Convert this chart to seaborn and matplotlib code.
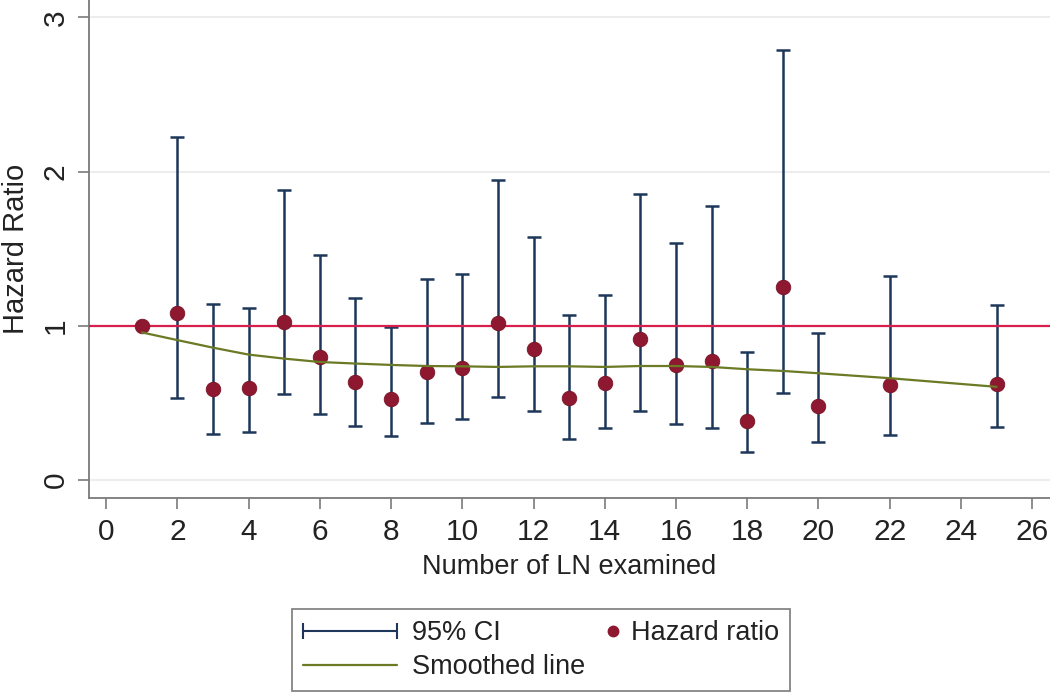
import numpy as np
import pandas as pd
import seaborn as sns
import matplotlib.pyplot as plt
from matplotlib.lines import Line2D
from matplotlib.legend_handler import HandlerLine2D

# values
ln_examined = [1, 2, 3, 4, 5, 6, 7, 8, 9, 10, 11, 12, 13, 14, 15, 16, 17, 18, 19, 20, 22, 25]
hazard_ratio = [1.00, 1.08, 0.59, 0.595, 1.024, 0.80, 0.636, 0.524, 0.697, 0.729, 1.02, 0.847,
                0.532, 0.627, 0.912, 0.748, 0.772, 0.384, 1.253, 0.481, 0.617, 0.621]
ci_lower = [np.nan, 0.53, 0.30, 0.31, 0.558, 0.43, 0.35, 0.283, 0.37, 0.395, 0.537, 0.446,
            0.265, 0.334, 0.446, 0.362, 0.334, 0.183, 0.561, 0.244, 0.291, 0.343]
ci_upper = [np.nan, 2.225, 1.14, 1.117, 1.88, 1.46, 1.177, 0.99, 1.305, 1.339, 1.943, 1.574,
            1.067, 1.199, 1.856, 1.537, 1.779, 0.832, 2.788, 0.955, 1.322, 1.134]
smoothed = [0.957, 0.907, 0.858, 0.813, 0.787, 0.765, 0.755, 0.746, 0.739, 0.737, 0.733, 0.737,
            0.737, 0.733, 0.739, 0.739, 0.733, 0.718, 0.707, 0.692, 0.66, 0.604]

df = pd.DataFrame({"ln": ln_examined, "hr": hazard_ratio, "lo": ci_lower,
                   "hi": ci_upper, "smooth": smoothed})
ci = df.dropna()

navy = "#1d3659"
dot_red = "#8e1830"
ref_red = "#d61f4b"
olive = "#6b7a24"

sns.set_theme(style="white")
plt.rcParams["font.family"] = ["Liberation Sans", "DejaVu Sans"]

fig = plt.figure(figsize=(10.5, 6.94), dpi=100)
ax = fig.add_axes([0.0848, 0.282, 0.9152, 0.718])

ax.yaxis.grid(True, color="#ededed", lw=1.5, zorder=0)
ax.errorbar(ci["ln"], ci["hr"], yerr=[ci["hr"] - ci["lo"], ci["hi"] - ci["hr"]],
            fmt="none", ecolor=navy, elinewidth=1.8, capsize=4.8, capthick=1.8, zorder=2)
ax.axhline(1, color=ref_red, lw=1.6, zorder=3)
sns.scatterplot(data=df, x="ln", y="hr", ax=ax, color=dot_red, s=110,
                edgecolor="#7a1426", linewidth=0.6, zorder=4, legend=False)
sns.lineplot(data=df, x="ln", y="smooth", ax=ax, color=olive, lw=1.6, zorder=5)

ax.set_xlim(-0.48, 26.5)
ax.set_ylim(-0.119, 3.113)
ax.set_xticks(range(0, 27, 2))
ax.set_yticks([0, 1, 2, 3])
ax.set_yticklabels(["0", "1", "2", "3"], rotation=90, va="center")

for side in ["top", "right"]:
    ax.spines[side].set_visible(False)
for side in ["left", "bottom"]:
    ax.spines[side].set_color("#7a7a7a")
    ax.spines[side].set_linewidth(1.3)

ax.tick_params(axis="both", which="major", direction="out", length=8, width=1.2,
               color="#7a7a7a", labelsize=21.5, labelcolor="#222222",
               left=True, bottom=True)
ax.tick_params(axis="y", pad=6)
ax.tick_params(axis="x", pad=6)
ax.set_xlabel("Number of LN examined", fontsize=19.5, color="#222222", labelpad=6)
ax.set_ylabel("Hazard Ratio", fontsize=21, color="#222222", labelpad=8)


class EndDot(HandlerLine2D):
    # put the single marker at the right end of the key, like the Stata legend
    def get_xdata(self, legend, xdescent, ydescent, width, height, fontsize):
        xdata, _ = super().get_xdata(legend, xdescent, ydescent, width, height, fontsize)
        x_end = -xdescent + width - 0.1 * fontsize
        return np.array([x_end, x_end]), np.array([x_end])


ci_key = Line2D([], [], color=navy, lw=1.5, marker="|", markersize=11, markeredgewidth=1.5)
smooth_key = Line2D([], [], color=olive, lw=1.6)
dot_key = Line2D([], [], color=dot_red, ls="none", marker="o", markersize=7.5)

leg = fig.legend([ci_key, smooth_key, dot_key], ["95% CI", "Smoothed line", "Hazard ratio"],
                 ncol=2, loc="lower left", bbox_to_anchor=(0.278, 0.004, 0.474, 0.13),
                 mode="expand", fontsize=19.5, frameon=True, fancybox=False,
                 handlelength=3.47, handletextpad=0.55, labelspacing=0.3,
                 borderpad=0.4, borderaxespad=0,
                 handler_map={ci_key: HandlerLine2D(numpoints=2, marker_pad=0),
                              dot_key: EndDot()})
leg.get_frame().set_edgecolor("#666666")
leg.get_frame().set_linewidth(1.3)
for t in leg.get_texts():
    t.set_color("#222222")

fig.savefig("out.png", dpi=100)
